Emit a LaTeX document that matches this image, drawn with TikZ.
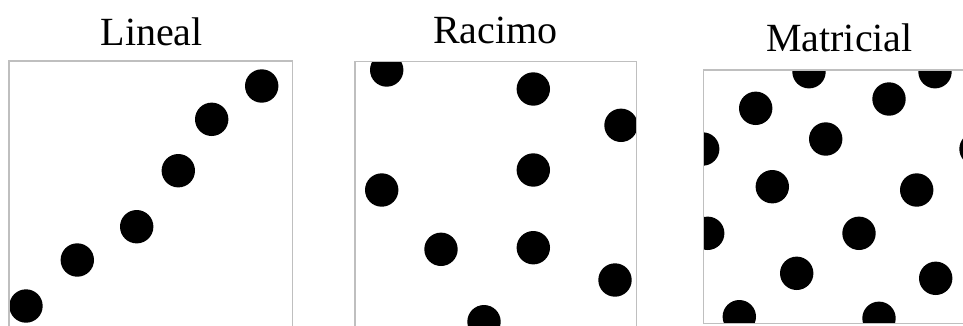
\documentclass[tikz,border=0pt]{standalone}
\usepackage{fontspec}
\setmainfont{Liberation Serif}
\begin{document}
\begin{tikzpicture}[x=1pt,y=-1pt,
  panel/.style={draw=black!25,line width=1.2pt},
  dot/.style={fill=black},
  title/.style={anchor=base,inner sep=0pt,font=\fontsize{40}{48}\selectfont}]
\useasboundingbox (0,0) rectangle (963,325);
% titles
\node[title] (t1) at (151.7,45) {Lineal};
\node[title] (t2) at (495.3,43.3) {Racimo};
\node[title] (t3) at (839.5,51.7) {Matricial};
% panel 1
\begin{scope}
  \clip (9,61) rectangle (292.7,330);
  \foreach \p in {(261.7,86),(211.7,119.3),(178.3,170.7),(136.7,226.7),(77.3,260),(26,306)}
    \fill[dot] \p circle (16.7);
\end{scope}
\draw[panel] (9,340) -- (9,61) -- (292.7,61) -- (292.7,340);
% panel 2
\begin{scope}
  \clip (355,61.7) rectangle (636.7,330);
  \foreach \p in {(386.7,70),(533.3,89),(621,125.3),(533.3,170),(381.7,190),(441,249.3),(533.3,247.7),(615,280),(484,321.7)}
    \fill[dot] \p circle (16.7);
\end{scope}
\draw[panel] (355,340) -- (355,61.7) -- (636.7,61.7) -- (636.7,340);
% panel 3
\begin{scope}
  \clip (703.3,70) rectangle (980,323.3);
  \foreach \p in {(809,71.7),(935,71.7),(755.7,108.3),(889,99),(825.7,139),(702.7,149),(976,149),(772.3,186.7),(916.7,190),(707.7,233.3),(859,233.3),(796.7,273.3),(935.7,278.3),(739.3,316.7),(879,318.3)}
    \fill[dot] \p circle (16.7);
\end{scope}
\draw[panel] (980,70) -- (703.3,70) -- (703.3,323.3) -- (980,323.3);
\end{tikzpicture}
\end{document}
